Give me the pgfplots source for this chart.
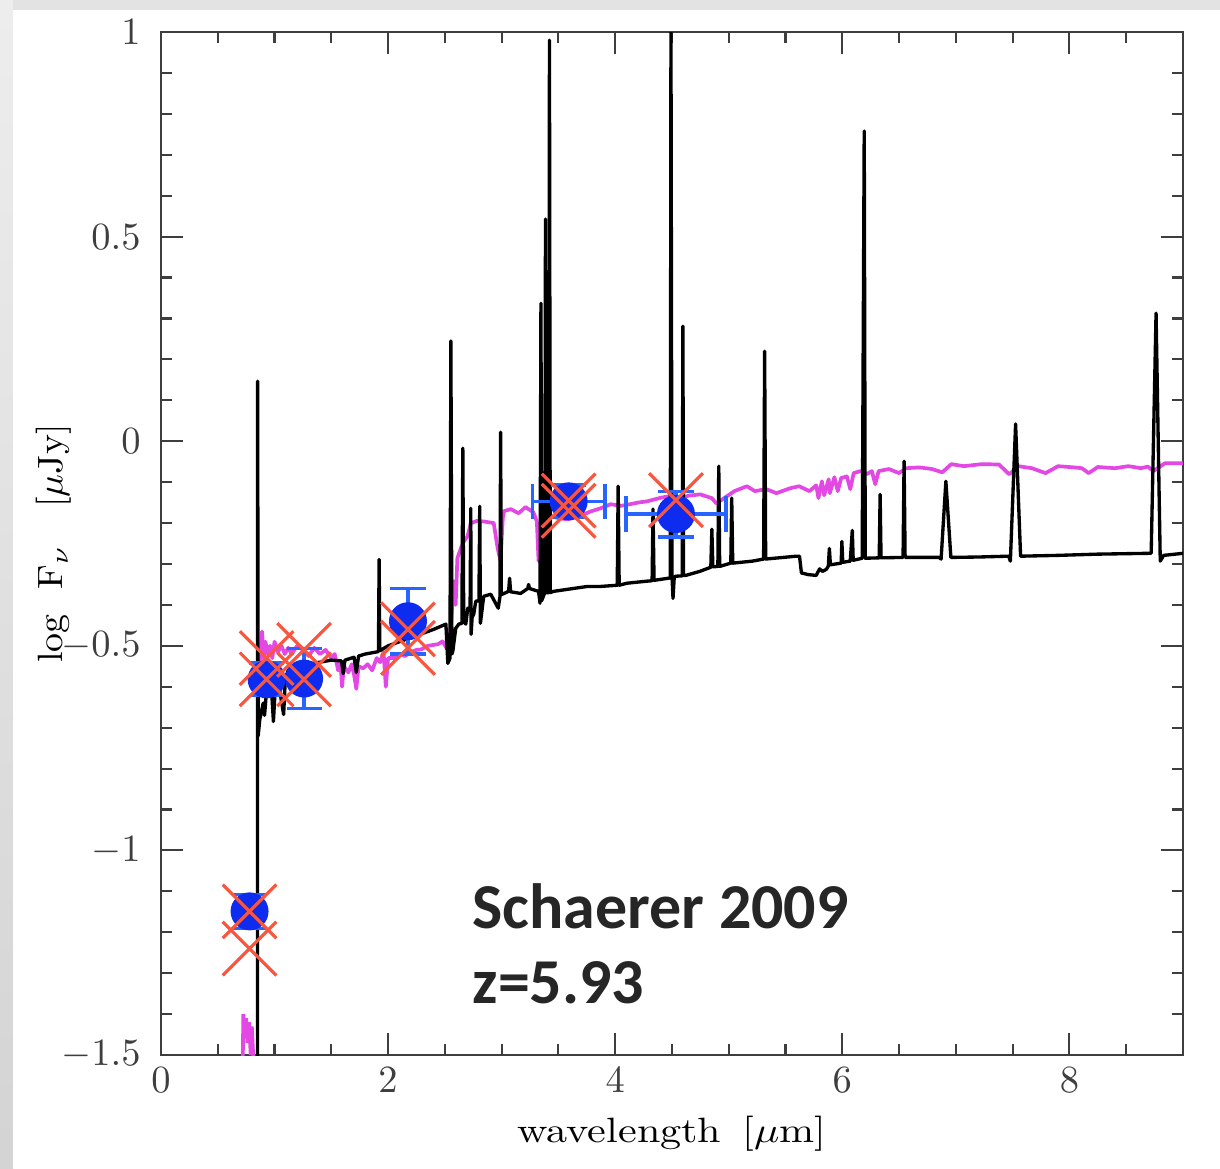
\documentclass[border=0pt]{standalone}
\usepackage{pgfplots}
\pgfplotsset{compat=1.18}
\usepackage{fontspec}
\newfontfamily\notefont{Carlito}

\definecolor{specmag}{RGB}{228,72,228}
\definecolor{ptblue}{RGB}{14,44,240}
\definecolor{errblue}{RGB}{40,100,255}
\definecolor{xred}{RGB}{248,86,62}
\definecolor{axgray}{RGB}{62,62,62}
\definecolor{notegray}{RGB}{38,38,38}

\begin{document}
\begin{tikzpicture}
% slide background with a white panel
\fill[gray!22] (0,0) rectangle (12.2,11.68);
\shade[top color=gray!14, bottom color=gray!34] (0,0) rectangle (0.13,11.68);
\fill[white] (0.13,0) rectangle (12.2,11.58);
\path[use as bounding box] (0,0) rectangle (12.2,11.68);

\begin{axis}[
  at={(1.61cm,1.13cm)}, anchor=south west,
  width=10.22cm, height=10.23cm, scale only axis,
  xmin=0, xmax=9, ymin=-1.5, ymax=1,
  xtick={0,2,4,6,8},
  minor xtick={0.5,1,...,9},
  ytick={-1.5,-1,-0.5,0,0.5,1},
  minor ytick={-1.4,-1.3,-1.2,-1.1,-0.9,-0.8,-0.7,-0.6,-0.4,-0.3,-0.2,-0.1,0.1,0.2,0.3,0.4,0.6,0.7,0.8,0.9},
  major tick length=2.2mm, minor tick length=1.1mm,
  every tick/.append style={axgray, line width=0.6pt},
  axis line style={axgray, line width=0.6pt},
  tick label style={font=\fontsize{10.8}{12}\selectfont, text=axgray},
  yticklabel style={xshift=-0.08cm},
  label style={font=\fontsize{11}{13}\selectfont, text=axgray},
  xlabel={\scalebox{1.2}[1]{wavelength\ \,[$\mu$m]}},
  ylabel={\scalebox{1.08}[1]{log\ \ F$_\nu$ \ \ [$\mu$Jy]}},
  every axis x label/.style={at={(axis description cs:0.5,0)}, anchor=base, yshift=-0.87cm},
  every axis y label/.style={at={(axis description cs:-0.105,0.5)}, anchor=center, rotate=90},
]

% dust-free model spectrum, Lyman-alpha forest piece
\addplot[specmag, line width=1.05pt] coordinates {
(0.720,-1.52) (0.725,-1.40) (0.740,-1.45) (0.750,-1.41) (0.760,-1.47)
(0.775,-1.42) (0.790,-1.50) (0.800,-1.43) (0.815,-1.52)
};

% dust-free model spectrum, redward of Lyman-alpha
\addplot[specmag, line width=1.05pt, line join=round] coordinates {
(0.875,-0.56) (0.890,-0.465) (0.905,-0.53) (0.920,-0.49) (0.940,-0.52)
(0.960,-0.50) (0.980,-0.53) (1.000,-0.49) (1.030,-0.515) (1.060,-0.50)
(1.090,-0.52) (1.120,-0.505) (1.150,-0.52) (1.200,-0.50) (1.250,-0.51)
(1.300,-0.525) (1.350,-0.505) (1.400,-0.52) (1.450,-0.51) (1.500,-0.53)
(1.530,-0.52) (1.560,-0.56) (1.580,-0.54) (1.595,-0.60) (1.610,-0.55)
(1.650,-0.565) (1.680,-0.545) (1.700,-0.57) (1.720,-0.605) (1.740,-0.55)
(1.780,-0.555) (1.820,-0.545) (1.860,-0.56) (1.900,-0.53) (1.930,-0.54)
(1.960,-0.515) (1.980,-0.60) (2.000,-0.53) (2.050,-0.53) (2.100,-0.52)
(2.150,-0.525) (2.200,-0.515) (2.250,-0.51) (2.290,-0.509) (2.350,-0.50)
(2.440,-0.496) (2.480,-0.489) (2.530,-0.513) (2.550,-0.46) (2.580,-0.342)
(2.595,-0.40) (2.610,-0.286) (2.640,-0.262) (2.667,-0.245) (2.700,-0.232)
(2.730,-0.200) (2.780,-0.195) (2.840,-0.196) (2.930,-0.200) (2.965,-0.262)
(2.990,-0.293) (3.010,-0.188) (3.020,-0.171) (3.080,-0.166) (3.150,-0.176)
(3.210,-0.161) (3.280,-0.174) (3.310,-0.196) (3.325,-0.293) (3.350,-0.196)
(3.430,-0.183) (3.500,-0.188) (3.580,-0.191) (3.690,-0.183) (3.780,-0.172)
(3.870,-0.164) (3.960,-0.154) (4.050,-0.158) (4.130,-0.154) (4.200,-0.150)
(4.280,-0.147) (4.390,-0.139) (4.460,-0.135) (4.570,-0.139) (4.650,-0.133)
(4.750,-0.130) (4.850,-0.139) (4.890,-0.152) (4.960,-0.139) (5.050,-0.122)
(5.160,-0.110) (5.230,-0.122) (5.330,-0.117) (5.420,-0.127) (5.540,-0.115)
(5.620,-0.110) (5.710,-0.122) (5.770,-0.108) (5.790,-0.139) (5.820,-0.098)
(5.840,-0.132) (5.880,-0.093) (5.890,-0.127) (5.930,-0.088) (5.960,-0.122)
(5.990,-0.090) (6.040,-0.086) (6.070,-0.117) (6.100,-0.078) (6.160,-0.073)
(6.220,-0.080) (6.260,-0.073) (6.290,-0.105) (6.320,-0.073) (6.410,-0.068)
(6.500,-0.078) (6.560,-0.066) (6.680,-0.064) (6.790,-0.068) (6.880,-0.076)
(6.960,-0.056) (7.070,-0.061) (7.230,-0.056) (7.380,-0.057) (7.470,-0.081)
(7.550,-0.061) (7.670,-0.066) (7.790,-0.078) (7.900,-0.061) (8.040,-0.064)
(8.110,-0.066) (8.170,-0.078) (8.250,-0.063) (8.400,-0.066) (8.520,-0.061)
(8.630,-0.066) (8.690,-0.062) (8.740,-0.073) (8.840,-0.054) (9.000,-0.054)
};

% nebular + stellar model spectrum
\addplot[black, line width=0.95pt, line join=round] coordinates {
(0.850,-1.60) (0.851,0.147) (0.856,-0.72) (0.870,-0.68) (0.885,-0.66)
(0.900,-0.64) (0.912,-0.67) (0.925,-0.625) (0.950,-0.62) (0.975,-0.615)
(0.990,-0.685) (1.005,-0.61) (1.040,-0.60) (1.080,-0.668) (1.095,-0.58)
(1.120,-0.56) (1.150,-0.55) (1.200,-0.546) (1.300,-0.545) (1.400,-0.54)
(1.500,-0.535) (1.590,-0.537) (1.605,-0.568) (1.620,-0.535) (1.700,-0.528)
(1.720,-0.565) (1.740,-0.525) (1.800,-0.52) (1.900,-0.515) (1.915,-0.514)
(1.921,-0.289) (1.927,-0.512) (2.000,-0.50) (2.100,-0.49) (2.200,-0.48)
(2.300,-0.47) (2.400,-0.46) (2.509,-0.447) (2.526,-0.543) (2.545,-0.53)
(2.553,0.245) (2.562,-0.52) (2.570,-0.513) (2.596,-0.457) (2.623,-0.447)
(2.650,-0.445) (2.658,-0.017) (2.666,-0.44) (2.684,-0.447) (2.702,-0.408)
(2.722,-0.41) (2.728,-0.164) (2.731,-0.472) (2.740,-0.43) (2.754,-0.423)
(2.772,-0.391) (2.800,-0.39) (2.807,-0.159) (2.813,-0.445) (2.842,-0.379)
(2.904,-0.374) (2.970,-0.408) (2.985,-0.38) (2.991,0.022) (2.997,-0.375)
(3.061,-0.367) (3.070,-0.335) (3.079,-0.368) (3.167,-0.372) (3.230,-0.36)
(3.237,-0.35) (3.245,-0.36) (3.325,-0.367) (3.338,-0.396) (3.346,0.337)
(3.352,-0.39) (3.380,-0.37) (3.386,0.543) (3.392,-0.37) (3.415,-0.37)
(3.421,0.98) (3.428,-0.37) (3.456,-0.367) (3.579,-0.362) (3.754,-0.355)
(3.868,-0.355) (4.018,-0.352) (4.026,-0.11) (4.035,-0.352) (4.105,-0.347)
(4.281,-0.342) (4.325,-0.341) (4.333,-0.166) (4.342,-0.340) (4.465,-0.335)
(4.485,-0.334) (4.491,1.0) (4.500,-0.33) (4.509,-0.384) (4.520,-0.332)
(4.535,-0.33) (4.590,-0.329) (4.596,0.281) (4.602,-0.328) (4.620,-0.328)
(4.746,-0.318) (4.842,-0.308) (4.851,-0.215) (4.860,-0.307) (4.904,-0.306)
(4.912,-0.061) (4.920,-0.306) (5.018,-0.298) (5.026,-0.139) (5.035,-0.298)
(5.210,-0.293) (5.307,-0.288) (5.316,0.22) (5.325,-0.288) (5.596,-0.281)
(5.623,-0.281) (5.640,-0.322) (5.700,-0.326) (5.770,-0.328) (5.800,-0.312)
(5.825,-0.318) (5.860,-0.313) (5.877,-0.305) (5.886,-0.262) (5.895,-0.302)
(5.990,-0.298) (5.996,-0.245) (6.004,-0.296) (6.070,-0.293) (6.088,-0.218)
(6.096,-0.291) (6.175,-0.286) (6.193,0.758) (6.202,-0.286) (6.325,-0.285)
(6.333,-0.13) (6.341,-0.285) (6.535,-0.284) (6.544,-0.049) (6.553,-0.284)
(6.850,-0.284) (6.870,-0.288) (6.912,-0.098) (6.956,-0.284) (7.200,-0.283)
(7.465,-0.281) (7.480,-0.293) (7.526,0.042) (7.570,-0.281) (7.900,-0.279)
(8.250,-0.276) (8.693,-0.274) (8.720,-0.274) (8.763,0.313) (8.800,-0.293)
(8.830,-0.279) (9.000,-0.274)
};

% photometry with errors
\addplot[only marks, mark=*, mark size=5.2pt,
  mark options={ptblue, fill=ptblue},
  error bars/.cd, x dir=both, x explicit, y dir=both, y explicit,
  error bar style={errblue, line width=0.9pt},
  error mark options={rotate=90, errblue, mark size=5pt, line width=0.9pt}]
  table[x=x, y=y, x error=ex, y error=ey] {
x     y       ex    ey
0.78  -1.149  0     0.042
0.93  -0.582  0     0.040
1.26  -0.580  0     0.073
2.175 -0.440  0     0.080
3.59  -0.147  0.32  0.040
4.535 -0.178  0.44  0.056
};

% model fluxes in the filters
\addplot[only marks, mark=x, mark size=10.8pt,
  mark options={xred, line width=0.9pt}] coordinates {
(0.78,-1.149) (0.78,-1.24)
(0.93,-0.53) (0.93,-0.582)
(1.26,-0.51) (1.26,-0.582)
(2.175,-0.46) (2.175,-0.505)
(3.59,-0.145) (3.59,-0.17)
(4.535,-0.144)
};

\node[anchor=base west, inner sep=0pt, text=notegray, font=\notefont\bfseries\fontsize{18.2}{22}\selectfont]
  at (axis cs:2.738,-1.19) {Schaerer 2009};
\node[anchor=base west, inner sep=0pt, text=notegray, font=\notefont\bfseries\fontsize{18.2}{22}\selectfont]
  at (axis cs:2.738,-1.373) {z=5.93};
\end{axis}
\end{tikzpicture}
\end{document}
